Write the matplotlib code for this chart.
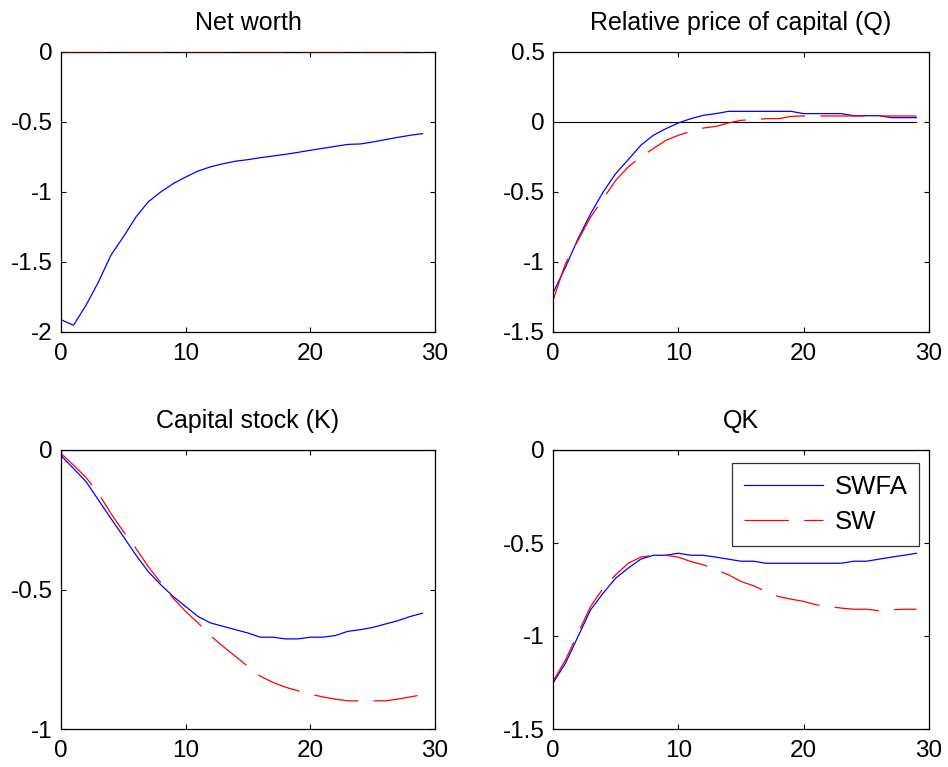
import matplotlib
matplotlib.use('Agg')
import matplotlib.pyplot as plt
from matplotlib.ticker import FormatStrFormatter, MultipleLocator

plt.rcParams['font.family'] = ['Liberation Sans', 'DejaVu Sans']
plt.rcParams['axes.unicode_minus'] = False
plt.rcParams['lines.scale_dashes'] = False

t = list(range(30))

# Net worth
nw_swfa = [-1.912, -1.952, -1.81, -1.643, -1.452, -1.321, -1.18, -1.07, -1.0, -0.94,
           -0.893, -0.85, -0.82, -0.798, -0.78, -0.769, -0.755, -0.743, -0.731, -0.717,
           -0.702, -0.688, -0.674, -0.66, -0.657, -0.643, -0.626, -0.61, -0.595, -0.583]
nw_sw = [0.0] * 30

# Relative price of capital (Q)
q_swfa = [-1.221, -1.036, -0.833, -0.655, -0.5, -0.369, -0.269, -0.167, -0.095, -0.048,
          -0.007, 0.024, 0.048, 0.06, 0.076, 0.076, 0.076, 0.076, 0.076, 0.076,
          0.06, 0.06, 0.06, 0.06, 0.045, 0.045, 0.045, 0.031, 0.031, 0.031]
q_sw = [-1.274, -1.01, -0.845, -0.68, -0.548, -0.417, -0.321, -0.25, -0.19, -0.131,
        -0.095, -0.067, -0.043, -0.031, -0.007, 0.012, 0.017, 0.024, 0.024, 0.04,
        0.043, 0.043, 0.043, 0.043, 0.043, 0.043, 0.043, 0.043, 0.043, 0.043]

# Capital stock (K)
k_swfa = [-0.02, -0.066, -0.113, -0.179, -0.245, -0.31, -0.376, -0.436, -0.483, -0.525,
          -0.561, -0.597, -0.62, -0.632, -0.644, -0.656, -0.671, -0.671, -0.677, -0.677,
          -0.671, -0.671, -0.665, -0.65, -0.644, -0.636, -0.624, -0.612, -0.597, -0.585]
k_sw = [-0.012, -0.054, -0.098, -0.155, -0.227, -0.292, -0.352, -0.418, -0.475, -0.531,
        -0.579, -0.62, -0.666, -0.704, -0.74, -0.776, -0.811, -0.833, -0.85, -0.863,
        -0.875, -0.885, -0.893, -0.899, -0.899, -0.899, -0.899, -0.893, -0.885, -0.877]

# QK
qk_swfa = [-1.253, -1.146, -1.002, -0.859, -0.77, -0.689, -0.635, -0.587, -0.566, -0.566,
           -0.555, -0.566, -0.566, -0.576, -0.587, -0.598, -0.598, -0.609, -0.609, -0.609,
           -0.609, -0.609, -0.609, -0.609, -0.598, -0.598, -0.587, -0.576, -0.566, -0.555]
qk_sw = [-1.244, -1.128, -0.984, -0.841, -0.743, -0.671, -0.609, -0.576, -0.566, -0.566,
         -0.576, -0.6, -0.617, -0.644, -0.671, -0.707, -0.73, -0.761, -0.788, -0.802,
         -0.814, -0.832, -0.841, -0.85, -0.856, -0.856, -0.864, -0.859, -0.856, -0.856]

panels = [
    ('Net worth', nw_swfa, nw_sw, (-2, 0), 0.5),
    ('Relative price of capital (Q)', q_swfa, q_sw, (-1.5, 0.5), 0.5),
    ('Capital stock (K)', k_swfa, k_sw, (-1, 0), 0.5),
    ('QK', qk_swfa, qk_sw, (-1.5, 0), 0.5),
]

fig = plt.figure(figsize=(9.48, 7.67), dpi=100)
rects = [
    [61 / 948, 435 / 767, 374 / 948, 280 / 767],
    [553 / 948, 435 / 767, 376 / 948, 280 / 767],
    [61 / 948, 38 / 767, 374 / 948, 279 / 767],
    [553 / 948, 38 / 767, 376 / 948, 279 / 767],
]

fs = 17.5
for i, (title, swfa, sw, ylim, step) in enumerate(panels):
    ax = fig.add_axes(rects[i])
    ax.plot(t, [0] * len(t), color='black', lw=0.8)
    ax.plot(t, swfa, color='blue', lw=0.9, label='SWFA')
    if i == 0:
        # SW net worth sits on the top border, only a faint red tint shows
        ax.plot(t, sw, color='red', lw=0.9, dashes=(32, 11), label='SW',
                zorder=3, clip_on=False, alpha=0.4)
    else:
        ax.plot(t, sw, color='red', lw=0.9, dashes=(32, 11), label='SW')
    ax.set_xlim(0, 30)
    ax.set_ylim(*ylim)
    ax.xaxis.set_major_locator(MultipleLocator(10))
    ax.yaxis.set_major_locator(MultipleLocator(step))
    ax.yaxis.set_major_formatter(FormatStrFormatter('%g'))
    ax.xaxis.set_major_formatter(FormatStrFormatter('%g'))
    ax.tick_params(direction='in', top=True, right=True, length=3.5, width=0.8,
                   labelsize=fs)
    ax.tick_params(axis='y', pad=6)
    ax.tick_params(axis='x', pad=8)
    for s in ax.spines.values():
        s.set_linewidth(0.9)
    ax.set_title(title, fontsize=18, pad=16)
    if i == 3:
        leg = ax.legend(loc='upper right', bbox_to_anchor=(0.973, 0.953),
                        borderaxespad=0, fontsize=18.5, frameon=True, fancybox=False,
                        handlelength=3.1, handletextpad=0.43, labelspacing=0.45,
                        borderpad=0.45)
        leg.get_frame().set_edgecolor('black')
        leg.get_frame().set_linewidth(0.9)

fig.savefig('out.png', dpi=100)
